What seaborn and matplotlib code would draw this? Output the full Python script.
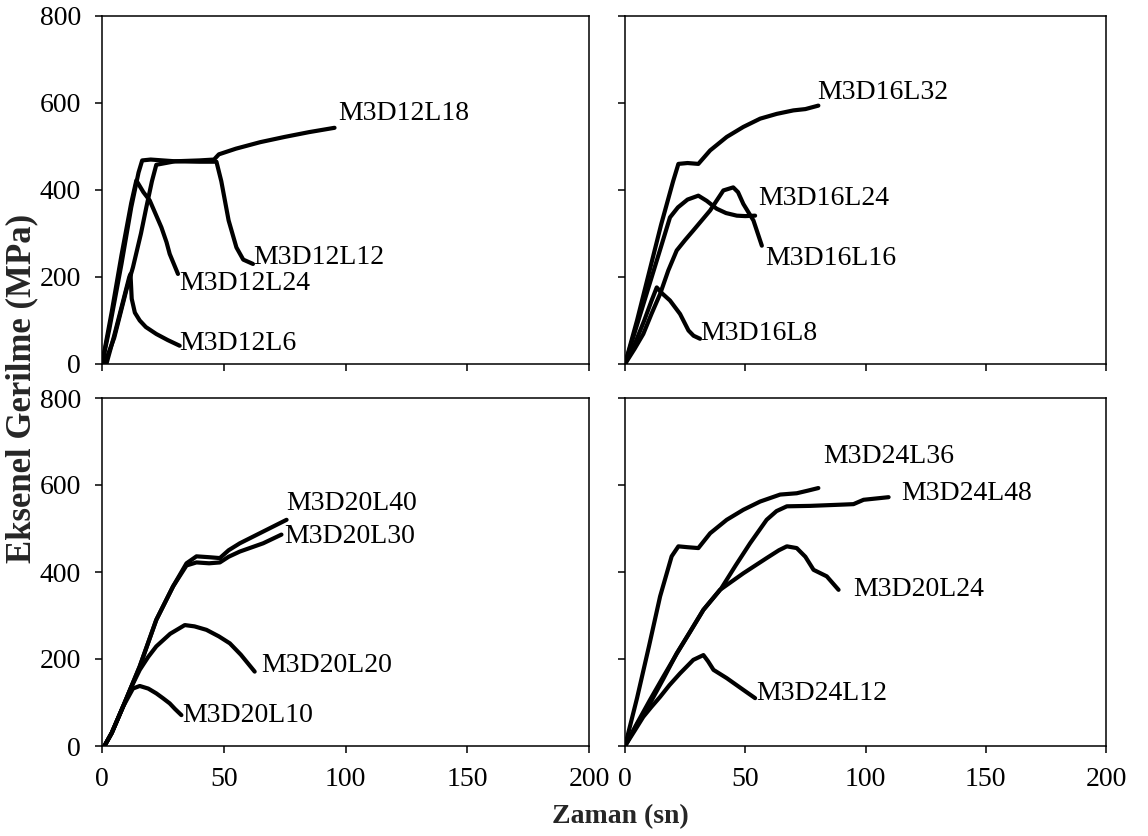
import matplotlib
matplotlib.use("Agg")
import matplotlib.pyplot as plt
import seaborn as sns
import pandas as pd

# ---------------- data ----------------
# Panel 1 (top-left)
m3d12l18_x = [0, 3, 8, 12, 15, 16.5, 20, 30, 40, 46, 48, 55, 65, 75, 85, 95.5]
m3d12l18_y = [0, 80, 230, 360, 440, 468, 470, 466, 468, 470, 482, 495, 510, 522, 533, 543]
m3d12l12_x = [1, 5, 10, 12.7, 16, 18.2, 20.5, 22.3, 30, 40, 47, 49, 52, 55.2, 58, 62]
m3d12l12_y = [0, 60, 170, 222, 300, 360, 420, 458, 466, 465, 465, 420, 330, 268, 240, 230]
m3d12l24_x = [0, 4, 8, 12, 14.1, 17, 19.6, 22, 24.4, 26.5, 27.8, 31.2]
m3d12l24_y = [0, 120, 250, 370, 422, 395, 376, 345, 314, 280, 253, 207]
m3d12l6_x = [1.8, 5, 8, 11.2, 11.7, 12.2, 13.5, 15.5, 18, 22.3, 27, 31.9]
m3d12l6_y = [0, 65, 130, 200, 207, 150, 118, 100, 85, 69, 55, 42]

# Panel 2 (top-right)
m3d16l32_x = [0, 5, 10, 15, 20, 22.2, 26, 30.5, 35.4, 42.3, 49.2, 56.2, 63.1, 70, 75, 80.4]
m3d16l32_y = [0, 100, 210, 320, 420, 460, 462, 460, 491, 522, 545, 564, 575, 583, 586, 594]
m3d16l24_x = [0, 5, 10, 15, 18.7, 22, 26, 30.5, 34, 38.1, 42, 46.5, 50, 54.1]
m3d16l24_y = [0, 90, 180, 270, 337, 360, 378, 387, 375, 357, 347, 341, 340, 341]
m3d16l16_x = [0, 4, 7.6, 11, 14.6, 18, 21.5, 25, 28.4, 35.4, 40.9, 45, 47, 49.2, 53.4, 56.9]
m3d16l16_y = [0, 35, 69, 115, 161, 215, 261, 285, 307, 353, 399, 406, 395, 368, 330, 272]
m3d16l8_x = [0, 4, 8, 11, 13.2, 15.5, 18.7, 22.9, 26.4, 28.5, 31.2]
m3d16l8_y = [0, 45, 100, 145, 176, 162, 146, 115, 77, 65, 58]

# Panel 3 (bottom-left)
m3d20l40_x = [1, 4, 8.6, 15.5, 22.3, 29.2, 34.7, 38.8, 44, 48.4, 52, 56.6, 66.2, 75.8]
m3d20l40_y = [0, 30, 90, 183, 290, 367, 420, 436, 434, 432, 450, 466, 493, 520]
m3d20l30_x = [1, 4, 8.6, 15.5, 22.3, 29.2, 34.7, 38.8, 44, 48.4, 52, 56.6, 66.2, 73.7]
m3d20l30_y = [0, 30, 90, 183, 290, 367, 415, 422, 420, 422, 435, 447, 466, 486]
m3d20l20_x = [1, 4, 8.6, 12, 15.5, 19, 22.3, 28, 34, 38, 42.9, 48, 52.5, 57, 62.7]
m3d20l20_y = [0, 30, 90, 135, 175, 205, 229, 258, 278, 275, 267, 252, 236, 210, 171]
m3d20l10_x = [1, 4, 8.6, 12.7, 15.5, 19, 22.3, 25, 27.8, 30, 32.6]
m3d20l10_y = [0, 30, 90, 132, 138, 132, 121, 110, 98, 85, 71]

# Panel 4 (bottom-right)
m3d24l36_x = [0, 5, 10, 14.6, 19.4, 22.2, 26, 30.5, 35.4, 42.3, 49.2, 56.2, 64.5, 71.4, 76, 80.4]
m3d24l36_y = [0, 110, 230, 344, 436, 459, 457, 455, 489, 520, 543, 562, 578, 581, 587, 593]
m3d24l48_x = [0, 5, 10.4, 16, 21.5, 27, 32.6, 40, 46, 52, 58.9, 63, 67.3, 77, 90.8, 95, 99.2, 109.6]
m3d24l48_y = [0, 50, 98, 155, 213, 262, 313, 362, 415, 466, 520, 540, 551, 552, 555, 556, 566, 572]
m3d20l24_x = [0, 5, 10.4, 16, 21.5, 27, 32.6, 39.5, 49.2, 58.9, 64, 67.3, 71.4, 75, 78.4, 83.9, 88.8]
m3d20l24_y = [0, 52, 106, 160, 212, 262, 313, 359, 397, 432, 450, 459, 455, 435, 405, 390, 359]
m3d24l12_x = [0, 4, 7.6, 11, 14.6, 18.5, 22.9, 28.4, 32.6, 34.5, 36.8, 42.3, 49.2, 54.1]
m3d24l12_y = [0, 35, 67, 90, 113, 140, 167, 198, 209, 195, 175, 156, 129, 110]

panel_series = [
    [("M3D12L18", m3d12l18_x, m3d12l18_y), ("M3D12L12", m3d12l12_x, m3d12l12_y),
     ("M3D12L24", m3d12l24_x, m3d12l24_y), ("M3D12L6", m3d12l6_x, m3d12l6_y)],
    [("M3D16L32", m3d16l32_x, m3d16l32_y), ("M3D16L24", m3d16l24_x, m3d16l24_y),
     ("M3D16L16", m3d16l16_x, m3d16l16_y), ("M3D16L8", m3d16l8_x, m3d16l8_y)],
    [("M3D20L40", m3d20l40_x, m3d20l40_y), ("M3D20L30", m3d20l30_x, m3d20l30_y),
     ("M3D20L20", m3d20l20_x, m3d20l20_y), ("M3D20L10", m3d20l10_x, m3d20l10_y)],
    [("M3D24L36", m3d24l36_x, m3d24l36_y), ("M3D24L48", m3d24l48_x, m3d24l48_y),
     ("M3D20L24", m3d20l24_x, m3d20l24_y), ("M3D24L12", m3d24l12_x, m3d24l12_y)],
]

# label anchor points (data coords, left-centre of text)
label_pos = [
    [(97, 577), (62, 245), (31.9, 184), (31.9, 46)],
    [(79.8, 625), (55.5, 380), (58.3, 242), (31.2, 69)],
    [(75.5, 558), (74.7, 482), (65.5, 186), (33, 71)],
    [(82.5, 666), (114.8, 581), (95, 359), (54.4, 121)],
]

x_ticks = [0, 50, 100, 150, 200]
y_ticks = [0, 200, 400, 600, 800]
x_label = "Zaman (sn)"
y_label = "Eksenel Gerilme (MPa)"

# ---------------- style ----------------
sns.set_style("ticks")
plt.rcParams["font.family"] = ["Liberation Serif", "DejaVu Serif"]
plt.rcParams["axes.linewidth"] = 1.1
plt.rcParams["xtick.major.width"] = 1.1
plt.rcParams["ytick.major.width"] = 1.1
plt.rcParams["xtick.major.size"] = 5
plt.rcParams["ytick.major.size"] = 5

W, H = 1148, 836
fig = plt.figure(figsize=(W / 100, H / 100), dpi=100)
fig.patch.set_facecolor("white")

rects = [
    (102, 16, 487, 348),
    (625, 16, 481, 348),
    (102, 398, 487, 348),
    (625, 398, 481, 348),
]

for i, (px, py, pw, ph) in enumerate(rects):
    ax = fig.add_axes([px / W, 1 - (py + ph) / H, pw / W, ph / H])
    for (name, xs, ys), (lx, ly) in zip(panel_series[i], label_pos[i]):
        df = pd.DataFrame({"t": xs, "s": ys})
        sns.lineplot(data=df, x="t", y="s", ax=ax, color="black", lw=3.0,
                     sort=False, estimator=None, solid_capstyle="round",
                     solid_joinstyle="round")
        ax.text(lx, ly, name, ha="left", va="center", fontsize=20, color="black")
    ax.set_xlim(0, 200)
    ax.set_ylim(0, 800)
    ax.set_xticks(x_ticks)
    ax.set_yticks(y_ticks)
    ax.set_xlabel("")
    ax.set_ylabel("")
    for s in ax.spines.values():
        s.set_visible(True)
        s.set_color("black")
    ax.tick_params(direction="out", colors="black", labelsize=20, pad=10)
    if i in (0, 1):
        ax.set_xticklabels([])
    else:
        ax.set_xticklabels([str(v) for v in x_ticks])
    if i in (1, 3):
        ax.set_yticklabels([])
    else:
        ax.set_yticklabels([str(v) for v in y_ticks])

fig.text(22 / W, 1 - 388 / H, y_label, rotation=90, ha="center", va="center",
         fontsize=25, fontweight="bold")
fig.text(620 / W, 1 - 817 / H, x_label, ha="center", va="center",
         fontsize=20, fontweight="bold")

fig.savefig("out.png", dpi=100, facecolor="white")
